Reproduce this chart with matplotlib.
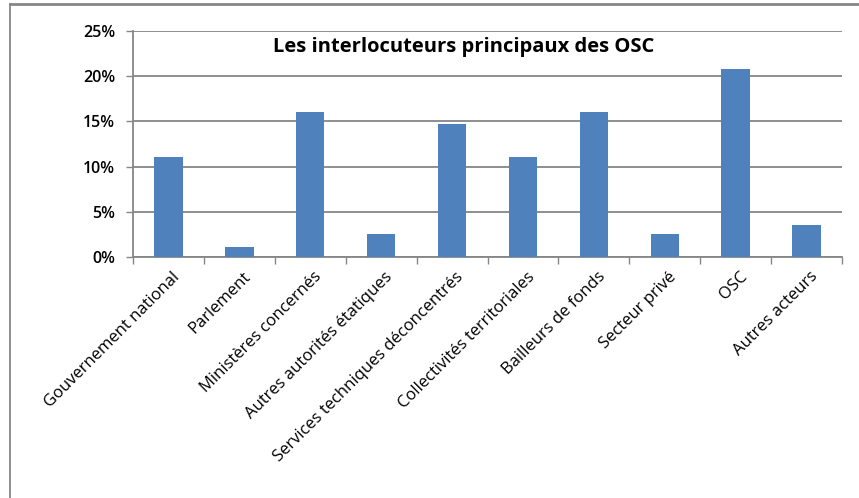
import matplotlib.pyplot as plt
from matplotlib.ticker import PercentFormatter
from matplotlib.lines import Line2D

categories = [
    "Gouvernement national", "Parlement", "Ministères concernés",
    "Autres autorités étatiques", "Services techniques déconcentrés",
    "Collectivités territoriales", "Bailleurs de fonds", "Secteur privé",
    "OSC", "Autres acteurs",
]
shares = [11.1, 1.1, 16.0, 2.5, 14.7, 11.1, 16.0, 2.5, 20.8, 3.5]
yticks = [0, 5, 10, 15, 20, 25]

plt.rcParams['font.family'] = ['Open Sans', 'DejaVu Sans']
grey = '#868686'

fig = plt.figure(figsize=(8.59, 4.98), dpi=100)
ax = fig.add_axes([133 / 859, 1 - 257 / 498, (842 - 133) / 859, (257 - 31) / 498])

x = range(len(categories))
ax.bar(x, shares, width=0.4, color='#4F81BD', zorder=3)

ax.set_xlim(-0.5, len(categories) - 0.5)
ax.set_ylim(0, 25)
ax.set_yticks(yticks)
ax.yaxis.set_major_formatter(PercentFormatter(decimals=0))
ax.grid(axis='y', color=grey, linewidth=1.3, zorder=0)

# ticks between categories on the x axis
ax.set_xticks([i - 0.5 for i in range(len(categories) + 1)])
ax.set_xticklabels([])
ax.tick_params(axis='x', length=5, color=grey, width=1)
ax.tick_params(axis='y', length=5, color=grey, width=1, labelsize=11.5, pad=8)
for lbl in ax.get_yticklabels():
    lbl.set_fontweight('semibold')

for side in ['top', 'right']:
    ax.spines[side].set_visible(False)
for side in ['left', 'bottom']:
    ax.spines[side].set_color(grey)
    ax.spines[side].set_linewidth(1.3)

for i, name in enumerate(categories):
    ax.text(i + 0.05, -1.3, name, rotation=45, ha='right', va='top',
            rotation_mode='anchor', fontsize=12, transform=ax.transData)

fig.text(464 / 859, 1 - 47 / 498, "Les interlocuteurs principaux des OSC",
         ha='center', va='center', fontsize=14.5, fontweight='bold')

# outer frame: top and left edges only
fig.add_artist(Line2D([10 / 859, 1], [1 - 4 / 498, 1 - 4 / 498],
                      transform=fig.transFigure, color=grey, linewidth=2))
fig.add_artist(Line2D([10 / 859, 10 / 859], [0, 1 - 4 / 498],
                      transform=fig.transFigure, color=grey, linewidth=1.3))

fig.savefig('out.png', dpi=100)
